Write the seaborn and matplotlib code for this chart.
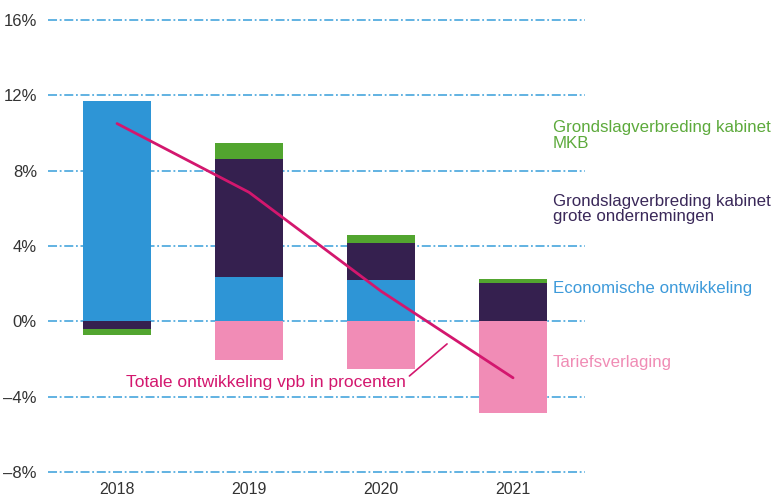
import numpy as np
import pandas as pd
import matplotlib
matplotlib.use("Agg")
import matplotlib.pyplot as plt
import seaborn as sns
from matplotlib import font_manager

years = ["2018", "2019", "2020", "2021"]
economische = [11.68, 2.37, 2.19, 0.0]
grote_ondernemingen = [-0.42, 6.27, 1.99, 2.02]
mkb = [-0.30, 0.81, 0.39, 0.25]
tariefsverlaging = [0.0, -2.07, -2.55, -4.85]
totaal = [10.5, 6.85, 1.6, -3.0]
yticks = [-8, -4, 0, 4, 8, 12, 16]
ytick_labels = ["\u20138%", "\u20134%", "0%", "4%", "8%", "12%", "16%"]

colors = {"eco": "#2E95D6", "grote": "#35204F", "mkb": "#52A52F", "tarief": "#F18CB6"}
label_colors = {"eco": "#3D9ADA", "grote": "#3A2859", "mkb": "#5DAA3C", "tarief": "#F08CB5"}
line_color = "#D3176E"
grid_color = "#55ADDF"

sns.set_theme(style="white")
avail = {f.name for f in font_manager.fontManager.ttflist}
narrow = "Liberation Sans Narrow" if "Liberation Sans Narrow" in avail else "Liberation Sans"
plt.rcParams["font.family"] = ["Liberation Sans", "DejaVu Sans"]

fig = plt.figure(figsize=(7.77, 4.99), dpi=100)
ax = fig.add_axes([48 / 777, 0.0428, 537 / 777, 0.9285])

df = pd.DataFrame({"year": years, "eco": economische, "grote": grote_ondernemingen,
                   "mkb": mkb, "tarief": tariefsverlaging})
order = ["tarief", "eco", "grote", "mkb"]
pos_bottom = np.zeros(len(years))
neg_bottom = np.zeros(len(years))
for key in order:
    vals = df[key].to_numpy(dtype=float)
    bottoms = np.where(vals >= 0, pos_bottom, neg_bottom)
    sns.barplot(data=df, x="year", y=key, color=colors[key], bottom=bottoms,
                width=0.52, saturation=1, ax=ax, zorder=2, edgecolor="none", linewidth=0)
    pos_bottom = pos_bottom + np.where(vals >= 0, vals, 0)
    neg_bottom = neg_bottom + np.where(vals < 0, vals, 0)

sns.lineplot(x=np.arange(len(years)), y=totaal, color=line_color, lw=2.0, ax=ax, zorder=4)

ax.set_xlim(-0.523, 3.545)
ax.set_ylim(-8.3, 16.3)
ax.set_yticks(yticks)
ax.set_yticklabels(ytick_labels)
ax.set_xlabel("")
ax.set_ylabel("")
for s in ax.spines.values():
    s.set_visible(False)
ax.tick_params(axis="both", length=0)
ax.tick_params(axis="y", pad=8)
ax.tick_params(axis="x", pad=3)
for lab in ax.get_yticklabels():
    lab.set_fontfamily([narrow, "DejaVu Sans"])
    lab.set_fontsize(12)
    lab.set_color("#333333")
for lab in ax.get_xticklabels():
    lab.set_fontfamily([narrow, "DejaVu Sans"])
    lab.set_fontsize(11.5)
    lab.set_color("#333333")
for y in yticks:
    ax.axhline(y, color=grid_color, lw=1.3, ls=(0, (5, 1.5, 1, 1.5)), zorder=1)

fs = 12.2
ax.text(3.30, 9.88, "Grondslagverbreding kabinet\nMKB", color=label_colors["mkb"],
        fontsize=fs, va="center", ha="left", linespacing=1.05)
ax.text(3.30, 5.95, "Grondslagverbreding kabinet\ngrote ondernemingen", color=label_colors["grote"],
        fontsize=fs, va="center", ha="left", linespacing=1.0)
ax.text(3.30, 1.75, "Economische ontwikkeling", color=label_colors["eco"],
        fontsize=fs, va="center", ha="left")
ax.text(3.30, -2.18, "Tariefsverlaging", color=label_colors["tarief"],
        fontsize=fs, va="center", ha="left")

ax.annotate("Totale ontwikkeling vpb in procenten", xy=(2.50, -1.2), xytext=(2.19, -3.25),
            ha="right", va="center", color=line_color, fontsize=12.5,
            arrowprops=dict(arrowstyle="-", color=line_color, lw=1.2, shrinkA=0, shrinkB=0,
                            relpos=(1.0, 0.75)))

fig.savefig("out.png", dpi=100)
